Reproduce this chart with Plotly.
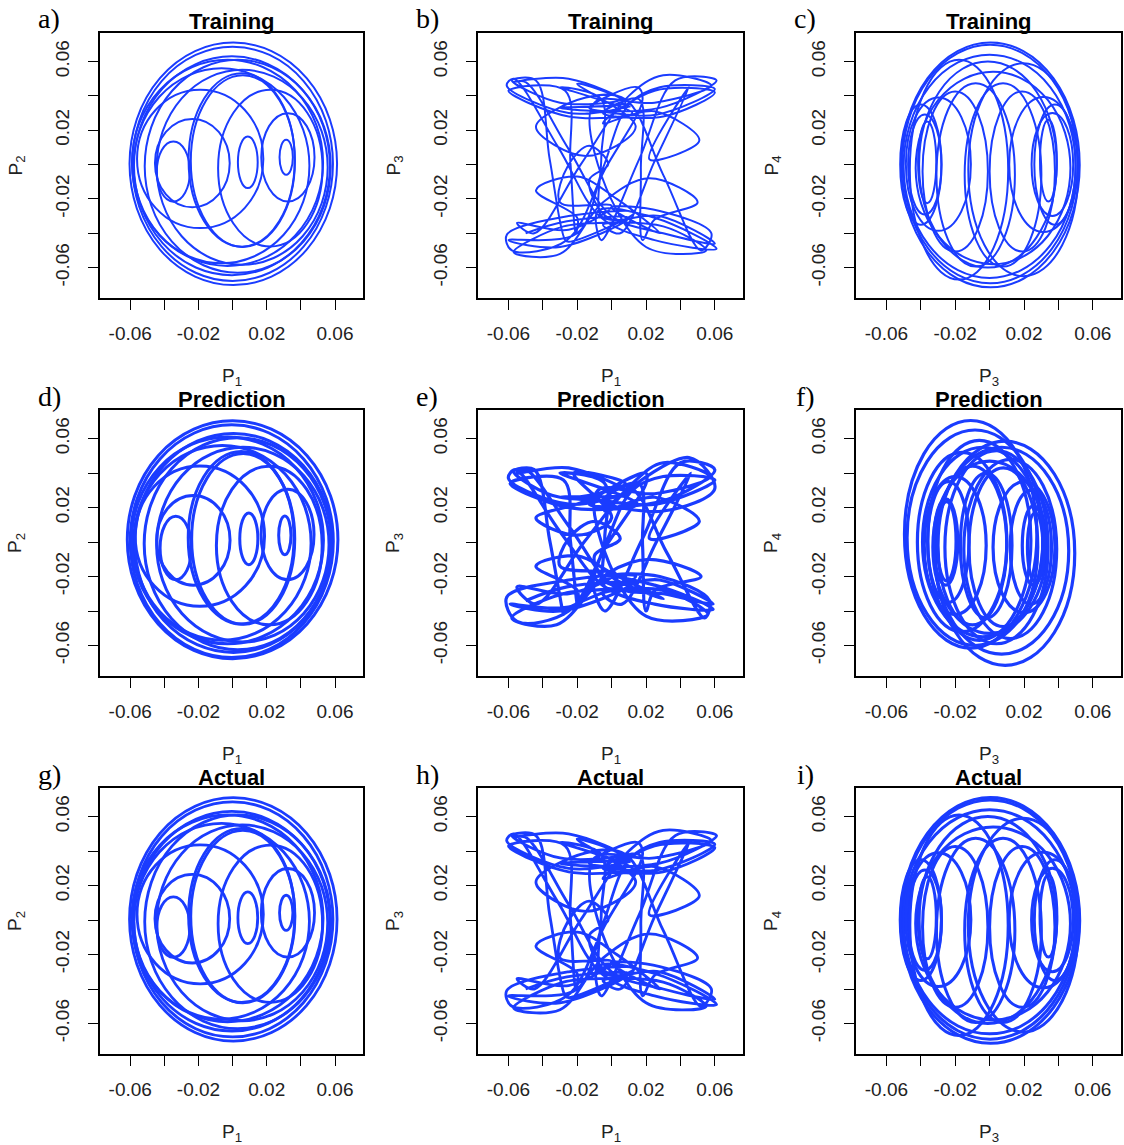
import plotly.graph_objects as go

W, H = 1124, 1145
BLUE = "#1a3cff"

# ---------------- data ----------------
# Loops of the P1-P2 / P3-P4 portraits: centre x, centre y, half-width, half-height
a_cx = [0.0314, 0.0089, -0.0347, 0.0324, -0.0236, -0.0190, 0.0053, 0.0060, 0.0221, -0.0065, 0.0056, 0.0004, 0.0000, -0.0004, -0.0030, 0.0030]
a_cy = [0.0042, 0.0013, -0.0041, 0.0042, 0.0008, 0.0033, 0.0027, 0.0020, -0.0021, -0.0007, -0.0016, 0.0004, 0.0004, -0.0007, 0.0010, -0.0010]
a_rx = [0.0039, 0.0058, 0.0097, 0.0156, 0.0219, 0.0370, 0.0311, 0.0305, 0.0306, 0.0515, 0.0501, 0.0608, 0.0588, 0.0574, 0.0560, 0.0545]
a_ry = [0.0102, 0.0150, 0.0175, 0.0257, 0.0257, 0.0403, 0.0505, 0.0500, 0.0456, 0.0568, 0.0568, 0.0706, 0.0682, 0.0637, 0.0600, 0.0620]

d_cx = [0.0306, 0.0095, -0.0333, 0.0322, -0.0230, -0.0192, 0.0050, 0.0062, 0.0215, -0.0060, 0.0060, 0.0000, -0.0005, 0.0005, -0.0030, 0.0030]
d_cy = [0.0039, 0.0019, -0.0034, 0.0044, 0.0010, 0.0034, 0.0025, 0.0018, -0.0020, -0.0005, -0.0015, 0.0013, 0.0005, -0.0005, 0.0010, -0.0010]
d_rx = [0.0036, 0.0053, 0.0092, 0.0155, 0.0215, 0.0379, 0.0310, 0.0302, 0.0310, 0.0520, 0.0505, 0.0617, 0.0595, 0.0578, 0.0562, 0.0548]
d_ry = [0.0112, 0.0150, 0.0184, 0.0262, 0.0260, 0.0407, 0.0500, 0.0495, 0.0460, 0.0565, 0.0565, 0.0690, 0.0675, 0.0635, 0.0600, 0.0615]

c_cx = [0.0005, 0.0003, 0.0000, -0.0363, -0.0377, -0.0298, 0.0342, 0.0365, 0.0313, -0.0081, 0.0078, -0.0178, 0.0196, -0.0200, 0.0190, -0.0010, 0.0020, -0.0400, 0.0380]
c_cy = [-0.0002, 0.0003, -0.0010, 0.0013, 0.0000, 0.0002, 0.0023, 0.0000, 0.0000, -0.0060, -0.0060, -0.0030, -0.0030, -0.0040, -0.0040, 0.0000, -0.0020, 0.0000, 0.0000]
c_rx = [0.0519, 0.0510, 0.0500, 0.0053, 0.0097, 0.0189, 0.0049, 0.0121, 0.0199, 0.0228, 0.0223, 0.0286, 0.0320, 0.0190, 0.0190, 0.0400, 0.0450, 0.0120, 0.0120]
c_ry = [0.0713, 0.0694, 0.0650, 0.0238, 0.0291, 0.0388, 0.0238, 0.0300, 0.0393, 0.0534, 0.0534, 0.0640, 0.0620, 0.0466, 0.0466, 0.0600, 0.0560, 0.0350, 0.0350]

f_cx = [-0.0110, -0.0085, 0.0090, 0.0070, -0.0040, 0.0000, -0.0250, -0.0255, -0.0240, -0.0200, 0.0265, 0.0255, 0.0240, 0.0200, -0.0100, 0.0080, -0.0020, -0.0160, 0.0120, -0.0060, 0.0040]
f_cy = [0.0045, 0.0025, -0.0065, -0.0050, 0.0000, -0.0030, 0.0005, 0.0000, 0.0000, -0.0020, -0.0030, -0.0020, -0.0030, -0.0030, -0.0020, -0.0030, -0.0020, 0.0000, -0.0040, 0.0010, -0.0030]
f_rx = [0.0385, 0.0395, 0.0405, 0.0390, 0.0350, 0.0330, 0.0055, 0.0070, 0.0120, 0.0180, 0.0045, 0.0065, 0.0120, 0.0180, 0.0200, 0.0200, 0.0150, 0.0260, 0.0270, 0.0300, 0.0300]
f_ry = [0.0660, 0.0625, 0.0650, 0.0600, 0.0550, 0.0500, 0.0230, 0.0250, 0.0350, 0.0400, 0.0200, 0.0230, 0.0330, 0.0380, 0.0460, 0.0460, 0.0420, 0.0520, 0.0520, 0.0580, 0.0560]

# Trajectory waypoints of the P1-P3 portraits (one row per lobe or stroke)
b_p1 = [0.011, -0.025, -0.061,
        -0.057, -0.031, -0.006,
        0.025, 0.061, 0.025, -0.008,
        -0.006, 0.016, 0.037,
        0.061, 0.028, -0.013, 0.015,
        0.018, -0.004, -0.026,
        -0.058, -0.061, -0.025, 0.013, -0.025,
        -0.027, -0.036, -0.044,
        -0.058, -0.030, 0.005, -0.020,
        0.014, -0.015, -0.044, -0.015,
        0.008, 0.030, 0.052,
        0.058, 0.028, 0.000, 0.028,
        0.003, -0.020, -0.044, -0.020,
        -0.021, -0.024, -0.027,
        -0.060, -0.025, 0.012, -0.030,
        -0.006, -0.006, -0.006,
        0.005, -0.028, -0.057, -0.030,
        -0.005, 0.022, 0.050, 0.025,
        0.018, 0.017, 0.016,
        -0.005, 0.030, 0.060, 0.025,
        -0.005, 0.025, 0.051, 0.022,
        0.045, 0.025, 0.005,
        -0.005, 0.030, 0.055, 0.020,
        -0.008, -0.010,
        0.025, 0.058, 0.030,
        0.010, -0.018, -0.045,
        -0.055, -0.025, 0.000, -0.030,
        -0.025, -0.013, -0.002, -0.013,
        -0.002, 0.028, 0.060, 0.030,
        0.000, -0.025, -0.050,
        -0.057, -0.025, 0.008, -0.030,
        -0.008, 0.026, 0.060, 0.028,
        0.010, -0.005, -0.020,
        -0.060, -0.030, 0.010, -0.026,
        -0.050]
b_p3 = [0.034, 0.030, 0.046,
        0.050, 0.010, -0.031,
        -0.044, -0.049, -0.031, -0.027,
        -0.044, 0.003, 0.049,
        0.049, 0.033, 0.033, 0.045,
        0.038, -0.003, -0.044,
        -0.050, -0.041, -0.030, -0.028, -0.045,
        -0.044, 0.003, 0.049,
        0.049, 0.036, 0.038, 0.047,
        0.022, 0.005, 0.022, 0.039,
        0.038, -0.006, -0.050,
        -0.040, -0.027, -0.025, -0.040,
        -0.020, -0.007, -0.015, -0.031,
        -0.040, 0.002, 0.043,
        0.043, 0.028, 0.030, 0.045,
        0.038, 0.004, -0.030,
        -0.033, -0.036, -0.051, -0.052,
        -0.022, -0.008, -0.022, -0.032,
        -0.044, -0.003, 0.038,
        0.030, 0.028, 0.042, 0.043,
        0.024, 0.031, 0.014, 0.003,
        0.045, 0.002, -0.040,
        -0.035, -0.036, -0.050, -0.048,
        0.000, 0.036,
        0.036, 0.046, 0.052,
        0.040, 0.000, -0.040,
        -0.034, -0.038, -0.024, -0.022,
        0.000, 0.011, 0.000, -0.009,
        -0.031, -0.030, -0.046, -0.040,
        -0.030, 0.009, 0.048,
        0.048, 0.050, 0.036, 0.033,
        0.031, 0.029, 0.044, 0.045,
        0.035, -0.002, -0.040,
        -0.044, -0.048, -0.031, -0.033,
        -0.040]

e_p1 = [0.014, -0.025, -0.060,
        -0.056, -0.030, -0.004,
        0.025, 0.059, 0.025, -0.010,
        -0.004, 0.018, 0.040,
        0.060, 0.030, -0.013, 0.020,
        0.020, -0.003, -0.025,
        -0.055, -0.061, -0.025, 0.014, -0.028,
        -0.028, -0.036, -0.045,
        -0.057, -0.030, 0.008, -0.022,
        0.000, -0.020, -0.044, -0.020,
        0.010, 0.032, 0.054,
        0.057, 0.028, 0.000, 0.030,
        0.000, -0.020, -0.044, -0.020,
        -0.020, -0.024, -0.028,
        -0.059, -0.025, 0.015, -0.030,
        -0.004, -0.004, -0.004,
        0.006, -0.028, -0.058, -0.032,
        -0.002, 0.022, 0.052, 0.025,
        0.020, 0.018, 0.016,
        -0.005, 0.030, 0.060, 0.045,
        -0.004, 0.025, 0.051, 0.022,
        0.046, 0.026, 0.006,
        -0.005, 0.030, 0.056, 0.020,
        -0.006, -0.008,
        0.025, 0.057, 0.030,
        0.012, -0.016, -0.044,
        -0.055, -0.025, 0.002, -0.030,
        -0.025, -0.010, 0.005, -0.010,
        -0.002, 0.028, 0.059, 0.030,
        0.002, -0.024, -0.050,
        -0.055, -0.025, 0.010, -0.030,
        -0.006, 0.026, 0.060, 0.030,
        0.012, -0.004, -0.020,
        -0.059, -0.030, 0.012, -0.026,
        -0.050]
e_p3 = [0.030, 0.022, 0.037,
        0.042, 0.006, -0.026,
        -0.036, -0.039, -0.025, -0.021,
        -0.040, 0.002, 0.046,
        0.042, 0.024, 0.022, 0.040,
        0.034, -0.002, -0.040,
        -0.046, -0.032, -0.022, -0.020, -0.040,
        -0.042, 0.001, 0.042,
        0.041, 0.026, 0.034, 0.040,
        0.014, 0.004, 0.014, 0.022,
        0.032, -0.006, -0.044,
        -0.034, -0.020, -0.020, -0.033,
        -0.018, -0.008, -0.014, -0.028,
        -0.036, 0.001, 0.036,
        0.034, 0.020, 0.022, 0.040,
        0.034, 0.002, -0.026,
        -0.027, -0.030, -0.044, -0.048,
        -0.018, -0.010, -0.020, -0.028,
        -0.040, -0.002, 0.034,
        0.024, 0.018, 0.031, 0.049,
        0.018, 0.026, 0.012, 0.002,
        0.040, 0.000, -0.036,
        -0.030, -0.028, -0.042, -0.043,
        0.000, 0.030,
        0.028, 0.038, 0.046,
        0.034, 0.000, -0.036,
        -0.026, -0.030, -0.018, -0.014,
        0.002, 0.012, 0.002, -0.008,
        -0.024, -0.022, -0.036, -0.030,
        -0.026, 0.008, 0.042,
        0.040, 0.043, 0.028, 0.026,
        0.024, 0.022, 0.036, 0.038,
        0.030, -0.002, -0.036,
        -0.036, -0.040, -0.024, -0.026,
        -0.034]

tick_vals = [-0.06, -0.04, -0.02, 0.0, 0.02, 0.04, 0.06]
tick_text = ["-0.06", "", "-0.02", "", "0.02", "", "0.06"]
x_range = [-0.0777, 0.0764]
y_range = [-0.0777, 0.0766]

letters = ["a)", "b)", "c)", "d)", "e)", "f)", "g)", "h)", "i)"]
row_titles = ["Training", "Prediction", "Actual"]
x_labels = ["P<sub>1</sub>", "P<sub>1</sub>", "P<sub>3</sub>"]
y_labels = ["P<sub>2</sub>", "P<sub>3</sub>", "P<sub>4</sub>"]

panel_data = [
    (("ellipses", a_cx, a_cy, a_rx, a_ry), 2.0),
    (("path", b_p1, b_p3), 2.0),
    (("ellipses", c_cx, c_cy, c_rx, c_ry), 2.0),
    (("ellipses", d_cx, d_cy, d_rx, d_ry), 3.0),
    (("path", e_p1, e_p3), 3.2),
    (("ellipses", f_cx, f_cy, f_rx, f_ry), 3.2),
    (("ellipses", a_cx, a_cy, a_rx, a_ry), 2.8),
    (("path", b_p1, b_p3), 2.8),
    (("ellipses", c_cx, c_cy, c_rx, c_ry), 3.0),
]

# ---------------- layout geometry (pixels) ----------------
col_px = [(100, 363), (478, 743), (856, 1121)]
row_px = [(33, 298), (410, 676), (788, 1054)]

FONT = "Liberation Sans, Arial, Helvetica, sans-serif"
SERIF = "Liberation Serif, Times New Roman, serif"

def px_x(p):
    return p / W

def px_y(p):
    return 1 - p / H

fig = go.Figure()
shapes = []
annotations = []
layout = {}

for k in range(9):
    r, c = divmod(k, 3)
    n = k + 1
    xa = "x" if n == 1 else f"x{n}"
    ya = "y" if n == 1 else f"y{n}"
    x0, x1 = col_px[c]
    y0, y1 = row_px[r]
    common = dict(
        showline=True, mirror=True, linecolor="black", linewidth=1.6,
        ticks="outside", ticklen=10, tickwidth=1.4, tickcolor="black",
        tickvals=tick_vals, ticktext=tick_text,
        tickfont=dict(family=FONT, size=19, color="#222"),
        showgrid=False, zeroline=False, fixedrange=True,
    )
    layout["xaxis" if n == 1 else f"xaxis{n}"] = dict(
        domain=[px_x(x0), px_x(x1)], anchor=ya, range=x_range,
        ticklabelstandoff=7, **common)
    layout["yaxis" if n == 1 else f"yaxis{n}"] = dict(
        domain=[px_y(y1), px_y(y0)], anchor=xa, range=y_range,
        tickangle=-90, ticklabelstandoff=12, **common)

    spec, lw = panel_data[k]
    if spec[0] == "ellipses":
        _, cx, cy, rx, ry = spec
        for i in range(len(cx)):
            shapes.append(dict(
                type="circle", xref=xa, yref=ya,
                x0=cx[i] - rx[i], x1=cx[i] + rx[i],
                y0=cy[i] - ry[i], y1=cy[i] + ry[i],
                line=dict(color=BLUE, width=lw), layer="above"))
        fig.add_trace(go.Scatter(x=[cx[0]], y=[cy[0]], mode="markers",
                                 marker=dict(opacity=0), xaxis=xa, yaxis=ya,
                                 showlegend=False, hoverinfo="skip"))
    else:
        _, px, py = spec
        fig.add_trace(go.Scatter(
            x=px, y=py, mode="lines", xaxis=xa, yaxis=ya,
            line=dict(color=BLUE, width=lw, shape="spline", smoothing=1.0),
            showlegend=False, hoverinfo="skip"))

    xc = (x0 + x1) / 2
    yc = (y0 + y1) / 2
    annotations.append(dict(text=f"<b>{row_titles[r]}</b>", x=px_x(xc), y=px_y(y0 - 11),
                            xref="paper", yref="paper", showarrow=False,
                            xanchor="center", yanchor="middle",
                            font=dict(family=FONT, size=22, color="black")))
    annotations.append(dict(text=letters[k], x=px_x(x0 - 51), y=px_y(y0 - 14),
                            xref="paper", yref="paper", showarrow=False,
                            xanchor="center", yanchor="middle",
                            font=dict(family=SERIF, size=28, color="black")))
    annotations.append(dict(text=x_labels[c], x=px_x(xc), y=px_y(y1 + 79),
                            xref="paper", yref="paper", showarrow=False,
                            xanchor="center", yanchor="middle",
                            font=dict(family=FONT, size=19, color="#222")))
    annotations.append(dict(text=y_labels[c], x=px_x(x0 - 84), y=px_y(yc),
                            xref="paper", yref="paper", showarrow=False,
                            xanchor="center", yanchor="middle", textangle=-90,
                            font=dict(family=FONT, size=19, color="#222")))

fig.update_layout(
    width=W, height=H, margin=dict(l=0, r=0, t=0, b=0),
    paper_bgcolor="white", plot_bgcolor="white",
    showlegend=False, shapes=shapes, annotations=annotations, **layout)

fig.write_html("out.html", config={"displayModeBar": False},
               post_script="document.body.style.margin='0';document.body.style.overflow='hidden';")
